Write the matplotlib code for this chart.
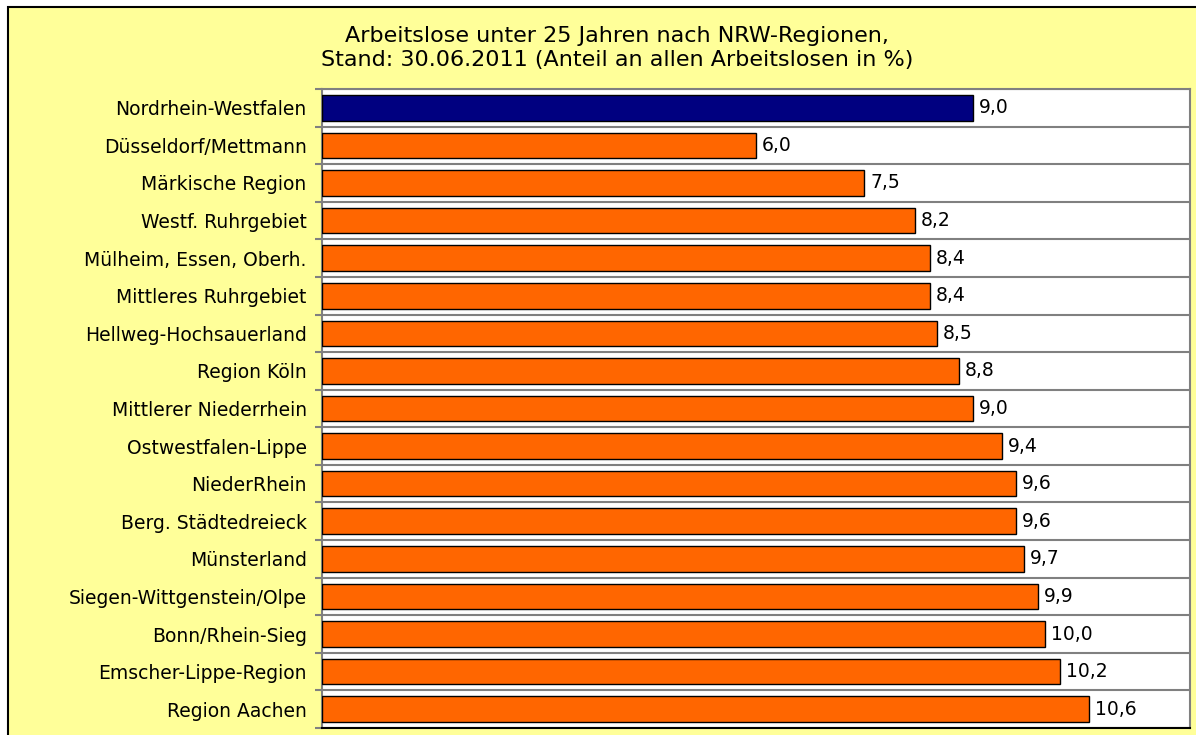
import numpy as np
import matplotlib.pyplot as plt
from matplotlib.patches import Rectangle

# -----------------------------------------------------------------------------
# Datos: Arbeitslose unter 25 Jahren nach NRW-Regionen (30.06.2011)
# -----------------------------------------------------------------------------
regionen = [
    "Nordrhein-Westfalen", "Düsseldorf/Mettmann", "Märkische Region",
    "Westf. Ruhrgebiet", "Mülheim, Essen, Oberh.", "Mittleres Ruhrgebiet",
    "Hellweg-Hochsauerland", "Region Köln", "Mittlerer Niederrhein",
    "Ostwestfalen-Lippe", "NiederRhein", "Berg. Städtedreieck",
    "Münsterland", "Siegen-Wittgenstein/Olpe", "Bonn/Rhein-Sieg",
    "Emscher-Lippe-Region", "Region Aachen",
]
anteil = [9.0, 6.0, 7.5, 8.2, 8.4, 8.4, 8.5, 8.8, 9.0,
          9.4, 9.6, 9.6, 9.7, 9.9, 10.0, 10.2, 10.6]

titel = ("Arbeitslose unter 25 Jahren nach NRW-Regionen,\n"
         "Stand: 30.06.2011 (Anteil an allen Arbeitslosen in %)")

W, H = 1196, 735
fig = plt.figure(figsize=(W/100, H/100), dpi=100, facecolor="white")

# Rahmen gelb mit schwarzer Linie (geht über Bildrand hinaus)
fig.patches.append(Rectangle((8/W, -0.05), 1.1, 1 - 7/H + 0.05,
                             transform=fig.transFigure, facecolor="#FFFF99",
                             edgecolor="black", linewidth=1.5, zorder=-1))

ax = fig.add_axes([322/W, 1 - 728/H, (1190-322)/W, (728-89)/H])
ax.set_zorder(2)
ax.set_facecolor("white")

n = len(regionen)
y = np.arange(n)
farben = ["#000080"] + ["#FF6600"] * (n - 1)
ax.barh(y, anteil, height=0.68, color=farben, edgecolor="black",
        linewidth=1.0, zorder=3)

for yi, v in zip(y, anteil):
    ax.text(v + 0.08, yi, f"{v:.1f}".replace(".", ","), va="center",
            ha="left", fontsize=13.5, color="black", zorder=4)

ax.set_xlim(0, 12)
ax.set_ylim(n - 0.5, -0.5)
ax.set_xticks([])
ax.set_yticks(y)
ax.set_yticklabels(regionen, fontsize=13.5)
ax.tick_params(axis="y", which="major", length=0, pad=11)
ax.set_yticks(np.arange(n + 1) - 0.5, minor=True)
ax.tick_params(axis="y", which="minor", length=5, width=1.5, color="#808080",
               direction="out")
ax.grid(True, axis="y", which="minor", color="#808080", linewidth=1.5,
        zorder=1)

for s in ["top", "right", "left"]:
    ax.spines[s].set_color("#808080")
    ax.spines[s].set_linewidth(1.5)
ax.spines["bottom"].set_color("black")
ax.spines["bottom"].set_linewidth(1.5)

fig.text(617/W, 1 - 48/H, titel, ha="center", va="center", fontsize=16,
         linespacing=1.3)

fig.savefig("out.png", dpi=100, facecolor=fig.get_facecolor())
